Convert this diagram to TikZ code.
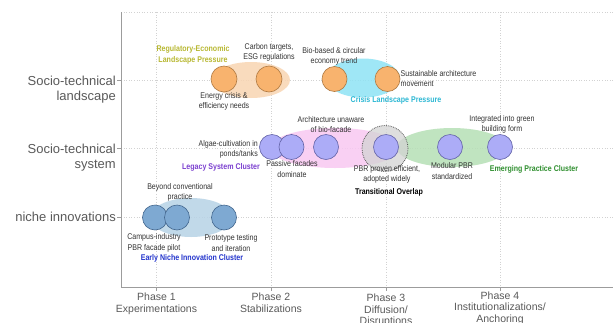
\documentclass[tikz,border=0pt]{standalone}
\usepackage{fontspec}
\setmainfont{Liberation Sans}
\newfontfamily\narrowfont{Liberation Sans}[FakeStretch=0.85]
\usetikzlibrary{shapes.geometric}
\definecolor{gridgray}{HTML}{D2D2D2}
\definecolor{axisgray}{HTML}{9C9C9C}
\definecolor{labgray}{HTML}{5A5A5A}
\definecolor{anngray}{HTML}{333333}
\definecolor{orfill}{HTML}{F8B36E}
\definecolor{ordraw}{HTML}{B07A42}
\definecolor{orblob}{HTML}{F9D5B2}
\definecolor{cyblob}{HTML}{8FE3F5}
\definecolor{pkblob}{HTML}{F8C8F2}
\definecolor{grblob}{HTML}{B6E0B6}
\definecolor{nbblob}{HTML}{B7D3E6}
\definecolor{gyblob}{HTML}{D3D3D3}
\definecolor{pufill}{HTML}{ACACF7}
\definecolor{pudraw}{HTML}{6464A8}
\definecolor{nifill}{HTML}{7EA9D2}
\definecolor{nidraw}{HTML}{44688F}
\definecolor{regcol}{HTML}{B8B832}
\definecolor{crisiscol}{HTML}{2DB8D4}
\definecolor{legcol}{HTML}{7B3FD0}
\definecolor{emcol}{HTML}{2F8F2F}
\definecolor{earlycol}{HTML}{2233CC}
\begin{document}
\begin{tikzpicture}[x=1pt,y=-1pt,
  gridline/.style={draw=gridgray, dotted, line width=0.6pt},
  axisline/.style={draw=axisgray, line width=1pt},
  ylab/.style={font=\fontsize{13}{15}\selectfont, text=labgray, align=right, inner sep=0pt},
  xlab/.style={font=\fontsize{10.5}{11.5}\selectfont, text=labgray, align=center, inner sep=0pt, anchor=north},
  ann/.style={font=\narrowfont\fontsize{8.3}{10.5}\selectfont, text=anngray, align=center, inner sep=0pt},
  clus/.style={font=\narrowfont\bfseries\fontsize{8.3}{10.5}\selectfont, inner sep=0pt},
  bub/.style={circle, minimum size=25pt, inner sep=0pt, line width=0.6pt},
  orbub/.style={bub, fill=orfill, draw=ordraw},
  pubub/.style={bub, fill=pufill, draw=pudraw},
  nibub/.style={bub, fill=nifill, draw=nidraw},
  blob/.style={ellipse, inner sep=0pt, fill opacity=0.85},
]
\useasboundingbox (0,0) rectangle (613,322);
\fill[white] (0,0) rectangle (613,322);

% grid
\foreach \gx in {156,271,386,500} \draw[gridline] (\gx,12) -- (\gx,287);
\foreach \gy in {12,80,148,217} \draw[gridline] (121,\gy) -- (613,\gy);

% axes
\coordinate (ytop) at (121,12);
\coordinate (origin) at (121,287);
\coordinate (xend) at (613,287);
\draw[axisline] (ytop) -- (origin) -- (xend);
\foreach \gx in {156,271,386,500} \draw[axisline, line width=0.8pt] (\gx,287) -- (\gx,291);
\foreach \gy in {80,148,217} \draw[axisline, line width=0.8pt] (117,\gy) -- (121,\gy);

% axis labels
\node[ylab, anchor=north east] (ylland) at (116,75.5) {Socio-technical\\landscape};
\node[ylab, anchor=north east] (ylsys) at (116,143.5) {Socio-technical\\system};
\node[ylab, anchor=base east] (ylniche) at (116,221.5) {niche innovations};

\node[xlab] (ph1) at (156.5,293) {Phase 1\\Experimentations};
\node[xlab] (ph2) at (271,293) {Phase 2\\Stabilizations};
\node[xlab] (ph3) at (386,294) {Phase 3\\Diffusion/\\Disruptions};
\node[xlab] (ph4) at (500,291.5) {Phase 4\\Institutionalizations/\\Anchoring};

% background blobs
\node[blob, fill=orblob, minimum width=78pt, minimum height=36pt] (orblobn) at (251,80) {};
\node[blob, fill=cyblob, minimum width=74pt, minimum height=39pt] (cyblobn) at (363,78) {};
\node[blob, fill=pkblob, minimum width=130pt, minimum height=40pt] (pkblobn) at (335,148) {};
\node[blob, fill=grblob, minimum width=110pt, minimum height=39pt] (grblobn) at (452,147.5) {};
\node[blob, fill=nbblob, minimum width=82pt, minimum height=39pt] (nbblobn) at (191,217.5) {};
\node[circle, minimum size=46pt, inner sep=0pt, fill=gyblob, fill opacity=0.75, draw=black!65, densely dotted, line width=0.8pt] (overlap) at (385,148.5) {};

% bubbles
\node[orbub, minimum size=26pt] (o1) at (224,79) {};
\node[orbub, minimum size=26pt] (o2) at (269,79) {};
\node[orbub] (c1) at (334.5,79) {};
\node[orbub] (c2) at (387.5,79) {};

\node[pubub] (p1) at (272,147) {};
\node[pubub] (p2) at (291.5,147) {};
\node[pubub] (p3) at (326,147) {};
\node[pubub] (p4) at (386,147) {};
\node[pubub] (p5) at (450,147) {};
\node[pubub] (p6) at (500,147) {};

\node[nibub] (n1) at (155,217.5) {};
\node[nibub] (n2) at (177,217.5) {};
\node[nibub] (n3) at (224,217.5) {};

% landscape texts
\node[clus, text=regcol, align=center] (tregecon) at (193,55) {Regulatory-Economic\\Landscape Pressure};
\node[ann] (tcarbon) at (269,52.5) {Carbon targets,\\ESG regulations};
\node[ann] (tenergy) at (224,101.5) {Energy crisis \&\\efficiency needs};
\node[ann] (tbio) at (334,56.5) {Bio-based \& circular\\economy trend};
\node[ann, anchor=west, align=left] (tsust) at (400.5,78.5) {Sustainable architecture\\movement};
\node[clus, text=crisiscol] (tcrisis) at (396,100.5) {Crisis Landscape Pressure};

% system texts
\node[ann, anchor=east, align=right] (talgae) at (258,149.5) {Algae-cultivation in\\ponds/tanks};
\node[clus, text=legcol] (tlegacy) at (221,167) {Legacy System Cluster};
\node[ann] (tpassive) at (292,169) {Passive facades\\dominate};
\node[ann] (tarch) at (331,124.5) {Architecture unaware\\of bio-facade};
\node[ann] (tpbr) at (387,174.5) {PBR proven efficient,\\adopted widely};
\node[clus, text=black] (ttrans) at (389,192) {Transitional Overlap};
\node[ann] (tmod) at (452,171) {Modular PBR\\standardized};
\node[ann] (tinteg) at (502,124.5) {Integrated into green\\building form};
\node[clus, text=emcol] (temerg) at (534,169) {Emerging Practice Cluster};

% niche texts
\node[ann] (tbeyond) at (180,192.5) {Beyond conventional\\practice};
\node[ann] (tcampus) at (154,243) {Campus-industry\\PBR facade pilot};
\node[ann] (tproto) at (231,243) {Prototype testing\\and iteration};
\node[clus, text=earlycol] (tearly) at (192,258.5) {Early Niche Innovation Cluster};
\end{tikzpicture}
\end{document}
